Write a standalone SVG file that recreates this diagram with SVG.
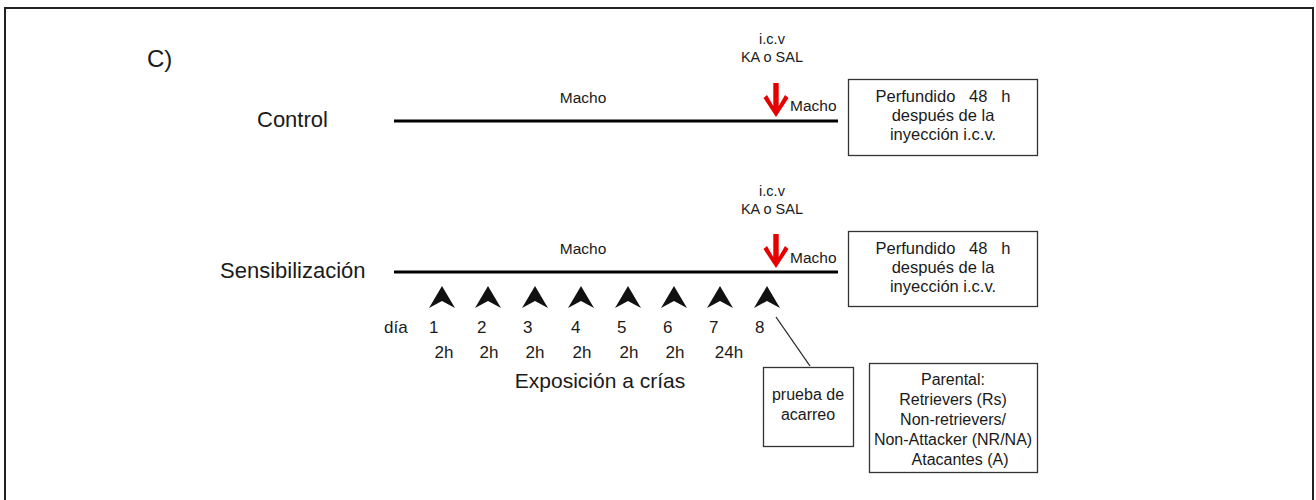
<svg xmlns="http://www.w3.org/2000/svg" width="1316" height="500" viewBox="0 0 1316 500">
<style>
text{font-family:"Liberation Sans",Arial,sans-serif;fill:#1a1a1a}
.s14{font-size:14.5px}
.s15{font-size:16px}
.bx{font-size:16.5px}
.mc{font-size:15.5px}
.s16{font-size:17px}
.big{font-size:22px}
.box{fill:#fff;stroke:#333;stroke-width:1.3}
.tl{stroke:#000;stroke-width:3}
.red{fill:#e60000}
.ah{fill:#111}
.m{text-anchor:middle}
</style>
<defs>
<path id="redArrow" d="M-2.7,-34 H2.7 V-11 L9,-22 L12.5,-19 L0,0 L-12.5,-19 L-9,-22 L-2.7,-11 Z"/>
<path id="tri" d="M0,-11 L13,11 L0,4 L-13,11 Z"/>
</defs>
<rect x="5" y="8" width="1308" height="500" fill="#fff" stroke="#222" stroke-width="2"/>
<text x="147" y="67" style="font-size:24px">C)</text>

<g id="control">
<text x="257" y="127" class="big">Control</text>
<line class="tl" x1="394" y1="121" x2="838" y2="121"/>
<text x="583" y="103" class="mc m">Macho</text>
<text x="772" y="44" class="s14 m">i.c.v</text>
<text x="772" y="62" class="s14 m">KA o SAL</text>
<use href="#redArrow" x="776" y="117" class="red"/>
<text x="790" y="111" class="mc">Macho</text>
</g>
<g id="control-box">
<rect class="box" x="848.5" y="79.5" width="189" height="76"/>
<text x="943" y="102" class="bx m" xml:space="preserve">Perfundido   48   h</text>
<text x="943" y="121" class="bx m">después de la</text>
<text x="943" y="140" class="bx m">inyección i.c.v.</text>
</g>

<g id="sensibilizacion">
<text x="220" y="278" class="big">Sensibilización</text>
<line class="tl" x1="394" y1="272" x2="838" y2="272"/>
<text x="583" y="254" class="mc m">Macho</text>
<text x="772" y="196" class="s14 m">i.c.v</text>
<text x="772" y="214" class="s14 m">KA o SAL</text>
<use href="#redArrow" x="776" y="268" class="red"/>
<text x="790" y="263" class="mc">Macho</text>
</g>
<g id="sens-box">
<rect class="box" x="848.5" y="231.5" width="189" height="75"/>
<text x="943" y="254" class="bx m" xml:space="preserve">Perfundido   48   h</text>
<text x="943" y="273" class="bx m">después de la</text>
<text x="943" y="292" class="bx m">inyección i.c.v.</text>
</g>

<g id="timeline">
<use href="#tri" x="442" y="297" class="ah"/>
<use href="#tri" x="488" y="297" class="ah"/>
<use href="#tri" x="535" y="297" class="ah"/>
<use href="#tri" x="581" y="297" class="ah"/>
<use href="#tri" x="628" y="297" class="ah"/>
<use href="#tri" x="674" y="297" class="ah"/>
<use href="#tri" x="720" y="297" class="ah"/>
<use href="#tri" x="767" y="297" class="ah"/>
<text x="384" y="333" class="s16">día</text>
<text x="429" y="333" class="s16">1</text>
<text x="477" y="333" class="s16">2</text>
<text x="523" y="333" class="s16">3</text>
<text x="571" y="333" class="s16">4</text>
<text x="617" y="333" class="s16">5</text>
<text x="663" y="333" class="s16">6</text>
<text x="709" y="333" class="s16">7</text>
<text x="755" y="333" class="s16">8</text>
<text x="444" y="358" class="s16 m">2h</text>
<text x="489" y="358" class="s16 m">2h</text>
<text x="535" y="358" class="s16 m">2h</text>
<text x="582" y="358" class="s16 m">2h</text>
<text x="629" y="358" class="s16 m">2h</text>
<text x="675" y="358" class="s16 m">2h</text>
<text x="729" y="358" class="s16 m">24h</text>
<text x="600" y="388" class="big m" style="font-size:21px">Exposición a crías</text>
</g>

<g id="connectors">
<line x1="776" y1="317" x2="810" y2="366" stroke="#222" stroke-width="1.3"/>
</g>

<g id="prueba">
<rect class="box" x="763.5" y="367.5" width="90" height="79"/>
<text x="808" y="400" class="s15 m">prueba de</text>
<text x="808" y="420" class="s15 m">acarreo</text>
</g>
<g id="parental">
<rect class="box" x="869.5" y="363.5" width="168" height="109"/>
<text x="953" y="385" class="s15 m">Parental:</text>
<text x="953" y="405" class="s15 m">Retrievers (Rs)</text>
<text x="953" y="425" class="s15 m">Non-retrievers/</text>
<text x="953" y="445" class="s15 m">Non-Attacker (NR/NA)</text>
<text x="960" y="465" class="s15 m">Atacantes (A)</text>
</g>
</svg>
